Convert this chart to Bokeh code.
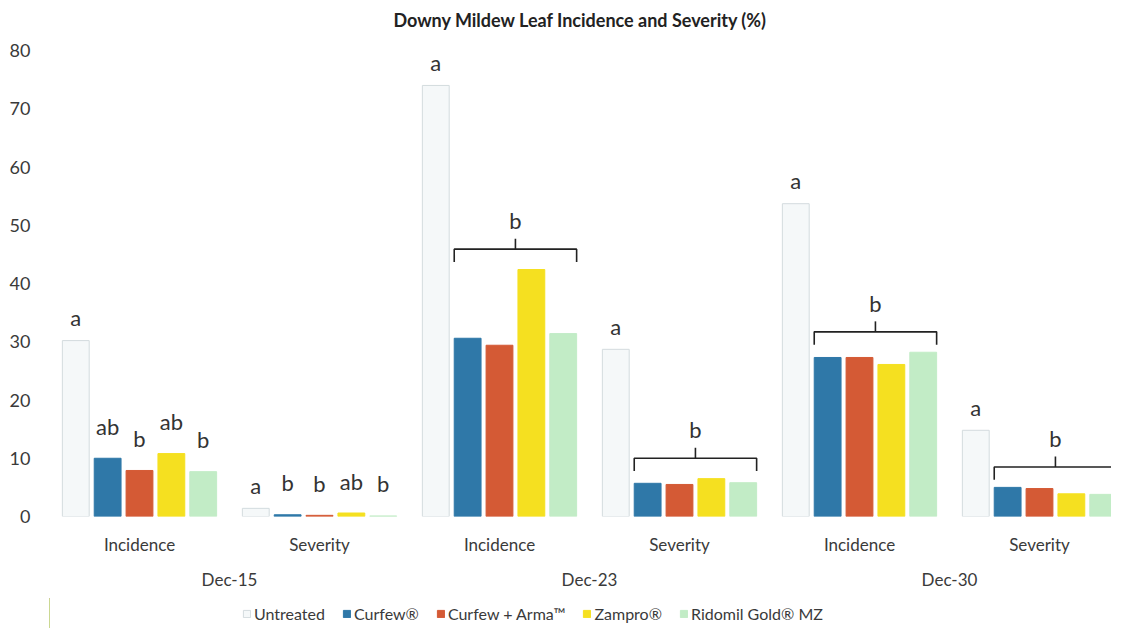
from bokeh.plotting import figure
from bokeh.layouts import column
from bokeh.models import FixedTicker, LinearAxis, Range1d, Legend, LegendItem, ColumnDataSource, Title
from bokeh.core.properties import value
from bokeh.embed import file_html
from bokeh.resources import INLINE

# ---- data ----
dates = ["Dec-15", "Dec-23", "Dec-30"]
measures = ["Incidence", "Severity"]
series = ["Untreated", "Curfew\u00ae", "Curfew + Arma\u2122", "Zampro\u00ae", "Ridomil Gold\u00ae MZ"]
colors = ["#f5f8f9", "#2f78a8", "#d45a35", "#f5e020", "#c2ecc6"]
line_colors = ["#d3dbde", "#2f78a8", "#d45a35", "#f5e020", "#c2ecc6"]

# values per group: Dec-15 Inc, Dec-15 Sev, Dec-23 Inc, Dec-23 Sev, Dec-30 Inc, Dec-30 Sev
untreated = [30.2, 1.4, 74.0, 28.7, 53.7, 14.8]
curfew = [10.0, 0.3, 30.6, 5.7, 27.3, 5.0]
curfew_arma = [7.9, 0.2, 29.4, 5.5, 27.3, 4.8]
zampro = [10.8, 0.6, 42.4, 6.5, 26.1, 3.9]
ridomil = [7.7, 0.1, 31.4, 5.8, 28.2, 3.8]
values = [untreated, curfew, curfew_arma, zampro, ridomil]

# significance letters
bar_letters = {
    0: ["a", "ab", "b", "ab", "b"],
    1: ["a", "b", "b", "ab", "b"],
}
untreated_letter = "a"
brace_letter = "b"
brace_groups = [2, 3, 4, 5]

y_ticks = [0, 10, 20, 30, 40, 50, 60, 70, 80]

# ---- layout constants ----
n_groups = len(dates) * len(measures)
pitch = 0.177
bar_w = 0.149
FONT = "Lato"
TXT = "#3a3a3a"

p = figure(frame_width=1062, frame_height=466, output_backend="svg", toolbar_location=None,
           x_range=Range1d(-0.5, 5.4), y_range=Range1d(0, 80),
           min_border_left=49, min_border_right=0, min_border_top=50, min_border_bottom=82,
           x_axis_location=None)
p.outline_line_color = None
p.grid.visible = False
p.background_fill_color = "white"

# spacer panel (closest to the frame) then the chart title above it
p.add_layout(Title(text=" ", text_font_size="1px", standoff=17), "above")
p.add_layout(Title(text="Downy Mildew Leaf Incidence and Severity (%)", align="center",
                   text_font=FONT, text_font_size="18px", text_font_style="bold",
                   text_color="#222222", standoff=0), "above")

# y axis
ya = p.yaxis[0]
ya.ticker = FixedTicker(ticks=y_ticks)
ya.axis_line_color = None
ya.major_tick_line_color = None
ya.minor_tick_line_color = None
ya.major_label_standoff = 13
ya.major_label_text_font = FONT
ya.major_label_text_font_size = "18px"
ya.major_label_text_color = TXT

# bars
for k, (name, vals) in enumerate(zip(series, values)):
    xs = [g + (k - 2) * pitch for g in range(n_groups)]
    src = ColumnDataSource(dict(x=xs, top=vals))
    p.vbar(x="x", top="top", width=bar_w, bottom=0, source=src,
           fill_color=colors[k], line_color=line_colors[k], line_width=1)

# per-bar letters
lx, ly, lt, loff = [], [], [], []
for g in range(n_groups):
    if g in bar_letters:
        for k in range(len(series)):
            lx.append(g + (k - 2) * pitch)
            ly.append(values[k][g])
            lt.append(bar_letters[g][k])
            loff.append(-23 if k == 0 else -32)
    else:
        lx.append(g - 2 * pitch)
        ly.append(values[0][g])
        lt.append(untreated_letter)
        loff.append(-23)
lsrc = ColumnDataSource(dict(x=lx, y=ly, t=lt, off=loff))
p.text(x="x", y="y", text="t", y_offset="off", source=lsrc, text_align="center",
       text_baseline="alphabetic", text_font=value(FONT), text_font_size="22px",
       text_color="#333333")

# braces over treated bars
bxs, bys, mx, my, bl = [], [], [], [], []
for g in brace_groups:
    treated_max = max(values[k][g] for k in range(1, len(series)))
    yb = treated_max + 3.5
    x0 = g - pitch - bar_w / 2
    x1 = g + 2 * pitch + bar_w / 2
    xm = (x0 + x1) / 2
    bxs.append([x0, x0, x1, x1])
    bys.append([yb - 2.2, yb, yb, yb - 2.2])
    bxs.append([xm, xm])
    bys.append([yb, yb + 1.8])
    mx.append(xm)
    my.append(yb + 1.8)
    bl.append(brace_letter)
p.multi_line(xs=bxs, ys=bys, line_color="#222222", line_width=1.6)
bsrc = ColumnDataSource(dict(x=mx, y=my, t=bl))
p.text(x="x", y="y", text="t", y_offset=-18, source=bsrc, text_align="center",
       text_baseline="alphabetic", text_font=value(FONT), text_font_size="22px",
       text_color="#333333")

# x axes: measures, then dates
m_ticks = list(range(n_groups))
m_labels = {g: measures[g % len(measures)] for g in m_ticks}
ax1 = LinearAxis(ticker=FixedTicker(ticks=m_ticks), major_label_overrides=m_labels)
d_ticks = [i * len(measures) + (len(measures) - 1) / 2 for i in range(len(dates))]
d_labels = {t: d for t, d in zip(d_ticks, dates)}
ax2 = LinearAxis(ticker=FixedTicker(ticks=d_ticks), major_label_overrides=d_labels)
for ax, so in ((ax1, 11), (ax2, 5)):
    ax.axis_line_color = None
    ax.major_tick_line_color = None
    ax.minor_tick_line_color = None
    ax.major_label_standoff = so
    ax.major_label_text_font = FONT
    ax.major_label_text_font_size = "17px"
    ax.major_label_text_color = TXT
p.add_layout(ax1, "below")
p.add_layout(ax2, "below")

# legend strip below the chart (legend carriers sit outside the visible range)
pl = figure(width=1111, height=30, output_backend="svg", toolbar_location=None,
            min_border=0, x_axis_location=None, y_axis_location=None,
            x_range=Range1d(0, 1), y_range=Range1d(0, 1))
pl.outline_line_color = None
pl.grid.visible = False
items = []
for k, name in enumerate(series):
    r = pl.vbar(x=[-5], top=[1], width=0.1, fill_color=colors[k], line_color=line_colors[k])
    items.append(LegendItem(label=name, renderers=[r]))
legend = Legend(items=items, orientation="horizontal", location=(191, 3),
                glyph_width=9, glyph_height=9, label_standoff=3, spacing=17,
                padding=2, margin=0, border_line_alpha=0, background_fill_alpha=0,
                label_text_font=FONT, label_text_font_size="16px", label_text_color=TXT)
pl.add_layout(legend, "center")

layout = column(p, pl, spacing=0)
open("out.html", "w").write(file_html(layout, INLINE))
